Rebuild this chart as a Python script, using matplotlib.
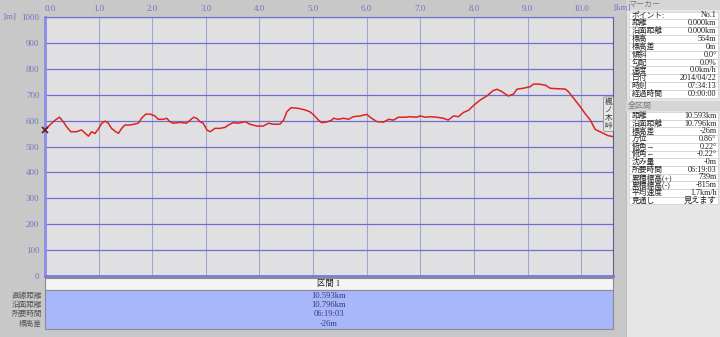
import numpy as np
import matplotlib
matplotlib.use("Agg")
import matplotlib.pyplot as plt
from matplotlib.patches import Rectangle

plt.rcParams['font.family'] = ['Liberation Serif', 'Noto Sans CJK JP']

# elevation profile (km, m)
dist_km = [0.00, 0.09, 0.19, 0.27, 0.34, 0.40, 0.48, 0.59, 0.68, 0.75, 0.81, 0.87, 0.93, 0.99,
           1.06, 1.12, 1.18, 1.24, 1.32, 1.37, 1.43, 1.49, 1.59, 1.68, 1.74, 1.80, 1.88, 1.96,
           2.05, 2.11, 2.21, 2.27, 2.33, 2.39, 2.52, 2.64, 2.77, 2.83, 2.89, 2.95,
           3.02, 3.08, 3.17, 3.26, 3.36, 3.42, 3.51, 3.61, 3.73, 3.82, 3.95,
           4.07, 4.17, 4.26, 4.38, 4.45, 4.51, 4.59, 4.73, 4.85, 4.94,
           5.01, 5.10, 5.16, 5.26, 5.35, 5.38, 5.47, 5.57, 5.66, 5.75, 5.88,
           6.00, 6.09, 6.19, 6.31, 6.41, 6.50, 6.59, 6.72, 6.81, 6.93,
           7.00, 7.09, 7.18, 7.31, 7.43, 7.52, 7.62, 7.71, 7.80, 7.90, 7.99,
           8.12, 8.24, 8.36, 8.43, 8.52, 8.64, 8.74, 8.80, 8.92,
           9.05, 9.11, 9.20, 9.33, 9.42, 9.55, 9.70, 9.76, 9.86, 9.98,
           10.07, 10.17, 10.26, 10.39, 10.50, 10.593]
elev_m = [564, 583, 602, 613, 596, 577, 557, 557, 564, 551, 540, 557, 550, 566,
          590, 598, 590, 570, 557, 551, 570, 583, 583, 587, 590, 609, 625, 625,
          618, 605, 605, 609, 596, 590, 593, 590, 613, 609, 596, 590,
          564, 557, 570, 570, 574, 583, 592, 590, 596, 586, 579,
          579, 590, 586, 586, 602, 634, 650, 647, 641, 634,
          622, 602, 592, 595, 602, 609, 605, 609, 605, 615, 618,
          624, 609, 596, 594, 605, 602, 613, 613, 615, 613,
          618, 613, 615, 613, 609, 602, 618, 615, 631, 640, 658,
          680, 695, 716, 721, 712, 695, 703, 721, 725,
          731, 741, 741, 737, 725, 723, 722, 712, 686, 654,
          628, 602, 566, 553, 542, 538]

total_km = 10.593
x_ticks = [0, 1, 2, 3, 4, 5, 6, 7, 8, 9, 10]
y_ticks = [0, 100, 200, 300, 400, 500, 600, 700, 800, 900, 1000]
peak_name = "楓ノ木峠"

marker_labels = ["ポイント:", "距離", "沿面距離", "標高", "標高差", "傾斜", "勾配", "速度",
                 "日付", "時刻", "経過時間"]
marker_values = ["No.1", "0.000km", "0.000km", "564m", "0m", "0.0°", "0.0%", "0.0km/h",
                 "2014/04/22", "07:34:13", "00:00:00"]
section_labels = ["距離", "沿面距離", "標高差", "方位", "俯角→", "俯角←", "沈み量", "所要時間",
                  "累積標高(+)", "累積標高(-)", "平均速度", "見通し"]
section_values = ["10.593km", "10.796km", "-26m", "0.86°", "0.22°", "-0.22°", "-0m",
                  "06:19:03", "739m", "-815m", "1.7km/h", "見えます"]
interval_name = "区間 1"
interval_labels = ["直線距離", "沿面距離", "所要時間", "標高差"]
interval_values = ["10.593km", "10.796km", "06:19:03", "-26m"]

W, H = 720, 337
fig = plt.figure(figsize=(W / 100, H / 100), dpi=100, facecolor='#c8c8c8')

# main profile axes
ax = fig.add_axes([45 / W, (H - 276) / H, 568 / W, 259 / H], zorder=1)
ax.set_facecolor('#e0e0e2')
ax.set_xlim(0, total_km)
ax.set_ylim(0, 1000)
ax.xaxis.tick_top()
ax.set_xticks(x_ticks)
ax.set_xticklabels([f"{v:.1f}" for v in x_ticks])
ax.set_yticks(y_ticks)
ax.set_yticklabels([str(v) for v in y_ticks])
ax.tick_params(length=0, labelsize=6.5, labelcolor='#7078c0')
ax.tick_params(axis='x', pad=3)
ax.tick_params(axis='y', pad=4)
ax.get_xticklabels()[0].set_ha('left')
ax.yaxis.grid(True, color='#6c6ed0', lw=0.9)
ax.xaxis.grid(True, color='#a2a4d4', lw=0.8)
ax.set_axisbelow(True)
ax.spines['left'].set_color('#8c8ce8')
ax.spines['left'].set_linewidth(2)
ax.spines['bottom'].set_color('#7a7cd0')
ax.spines['bottom'].set_linewidth(2)
ax.spines['right'].set_color('#5c5c90')
ax.spines['top'].set_color('#6c6ed0')

ax.plot(dist_km, elev_m, color='#e02222', lw=1.1, zorder=3)
ax.plot([dist_km[0]], [elev_m[0]], marker='x', ms=4, mew=1.2, color='#552222',
        clip_on=False, zorder=4)
ax.text(total_km - 0.01, 625, "\n".join(peak_name), ha='right', va='center', fontsize=5.5,
        linespacing=1.0, color='#333333', zorder=5,
        bbox=dict(boxstyle='round,pad=0.15', fc='#e8e8e8', ec='#777777', lw=0.5))

# overlay in pixel coordinates for the surrounding panels
ov = fig.add_axes([0, 0, 1, 1], zorder=2)
ov.set_xlim(0, W)
ov.set_ylim(H, 0)
ov.axis('off')

ov.text(3, 17, "[m]", fontsize=6.5, color='#7078c0', va='center')
ov.text(613, 8, "[km]", fontsize=6.5, color='#7078c0', va='center')

# right side panel
ov.add_patch(Rectangle((626, 0), W - 626, H, fc='#e6e6e6', ec='#b8b8b8', lw=0.6))


def side_table(title, title_y, top, row_h, labels, values):
    ov.add_patch(Rectangle((626, title_y - 5), W - 626, 10, fc='#d6d6d6', ec='none'))
    ov.text(628, title_y, title, fontsize=5.8, color='#7a7a7a', va='center')
    for i, (lab, val) in enumerate(zip(labels, values)):
        y0 = top + i * row_h
        ov.add_patch(Rectangle((629, y0), 89, row_h, fc='white', ec='#cfcfcf', lw=0.5))
        ov.text(631.5, y0 + row_h / 2, lab, fontsize=5.6, color='#222222', va='center')
        ov.text(716.5, y0 + row_h / 2, val, fontsize=5.9, color='#222222', va='center', ha='right')


side_table("マーカー", 5, 11.5, 7.85, marker_labels, marker_values)
side_table("全区間", 106, 112, 7.7, section_labels, section_values)

# bottom interval table
ov.add_patch(Rectangle((45, 277.5), 568, 12.5, fc='#f4f4f4', ec='#8a8a8a', lw=0.8))
ov.text(329, 284, interval_name, fontsize=6, color='#222222', ha='center', va='center')
ov.add_patch(Rectangle((45, 290), 568, 38.5, fc='#a7b7f9', ec='#8a8a9a', lw=0.8))
for i, (lab, val) in enumerate(zip(interval_labels, interval_values)):
    y = 296 + i * 9.2
    ov.text(42, y, lab, fontsize=5.5, color='#555555', ha='right', va='center')
    ov.text(329, y, val, fontsize=6.2, color='#3a3a7a', ha='center', va='center')

fig.savefig("out.png", dpi=100, facecolor=fig.get_facecolor())
